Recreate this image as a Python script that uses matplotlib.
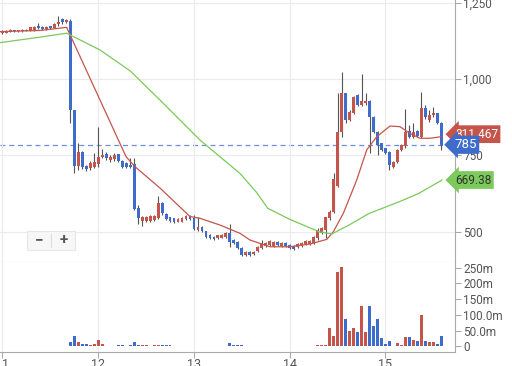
import numpy as np
import matplotlib
matplotlib.use('Agg')
import matplotlib.pyplot as plt
from matplotlib.patches import FancyBboxPatch
import matplotlib.transforms as mtransforms

plt.rcParams['font.family'] = ['Roboto', 'DejaVu Sans']

# velas horarias (precio)
opens = [1150, 1152, 1155, 1160, 1156, 1157, 1162, 1158, 1160, 1175, 1170, 1164, 1172, 1168, 1180, 1195, 1186,
         1190, 899, 715, 762, 715, 708, 712, 721, 746, 755, 735, 738, 753, 733, 726, 720, 722, 577, 536, 536,
         536, 538, 544, 595, 558, 547, 544, 533, 533, 541, 552, 544, 505, 516, 502, 490, 483, 478, 480, 482,
         495, 473, 467, 446, 424, 433, 426, 438, 446, 453, 457, 454, 467, 453, 462, 456, 453, 449, 453, 461,
         459, 464, 478, 495, 506, 544, 566, 650, 827, 953, 866, 888, 948, 915, 920, 929, 877, 827, 789, 773,
         762, 713, 729, 768, 781, 831, 811, 831, 811, 904, 866, 882, 888, 857]
closes = [1156, 1158, 1160, 1157, 1160, 1162, 1158, 1169, 1170, 1168, 1164, 1170, 1166, 1180, 1185, 1186, 1192,
          899, 715, 762, 713, 704, 726, 728, 746, 752, 742, 746, 751, 731, 713, 713, 713, 574, 544, 549, 549,
          551, 551, 595, 560, 541, 535, 533, 541, 546, 552, 541, 509, 516, 502, 483, 478, 475, 489, 490, 495,
          467, 464, 447, 424, 435, 424, 435, 451, 460, 462, 470, 467, 457, 464, 453, 446, 443, 460, 464, 470,
          470, 484, 506, 511, 549, 566, 673, 827, 953, 866, 893, 942, 915, 929, 929, 877, 827, 784, 768, 759,
          718, 729, 768, 784, 827, 809, 827, 813, 904, 877, 882, 890, 857, 785]
highs = [1160, 1161, 1163, 1162, 1162, 1164, 1164, 1171, 1172, 1182, 1172, 1172, 1174, 1183, 1205, 1200, 1198,
         1196, 899, 791, 764, 718, 732, 757, 844, 770, 762, 750, 757, 756, 735, 728, 740, 740, 588, 552, 552,
         554, 554, 617, 598, 560, 549, 546, 544, 549, 555, 555, 555, 547, 518, 504, 492, 485, 491, 492, 498,
         527, 476, 469, 449, 438, 436, 438, 454, 473, 466, 473, 470, 470, 467, 465, 459, 456, 463, 467, 473,
         473, 487, 511, 516, 549, 570, 691, 953, 1024, 955, 897, 946, 952, 1016, 953, 931, 879, 829, 791, 775,
         764, 732, 771, 787, 901, 849, 855, 834, 959, 915, 899, 910, 890, 859]
lows = [1146, 1150, 1153, 1155, 1154, 1155, 1156, 1156, 1158, 1165, 1160, 1162, 1164, 1166, 1175, 1180, 1184,
        856, 692, 702, 706, 700, 702, 708, 713, 742, 735, 730, 733, 728, 710, 710, 710, 570, 527, 520, 533,
        533, 535, 541, 556, 538, 532, 530, 531, 531, 539, 538, 505, 502, 500, 481, 476, 473, 476, 478, 480,
        449, 461, 444, 420, 421, 421, 423, 435, 442, 450, 454, 451, 454, 450, 450, 443, 440, 446, 450, 458,
        456, 461, 473, 492, 478, 540, 563, 648, 811, 855, 862, 884, 911, 911, 916, 757, 823, 751, 764, 755,
        702, 710, 726, 765, 773, 806, 808, 810, 806, 868, 860, 877, 853, 768]
# volumen en millones
volumes = [1, 1, 1, 1, 1, 1, 1, 1, 1, 1, 1, 1, 1, 1, 1, 1, 1,
           13, 32, 15, 9, 7, 3, 9, 19, 7, 2, 2, 2, 3, 3, 2, 3, 15, 6, 5, 4,
           2, 3, 3, 3, 3, 3, 2, 1, 1, 1, 2, 2, 1, 1, 1, 1, 1, 1, 1, 1,
           12, 3, 3, 3, 1, 1, 1, 1, 1, 1, 1, 1, 1, 1, 1, 1, 1, 1, 1, 1,
           1, 1, 3, 3, 6, 60, 34, 235, 251, 87, 48, 58, 45, 127, 46, 127, 64, 87, 26, 7,
           18, 2, 10, 5, 30, 30, 21, 18, 101, 18, 15, 14, 7, 34]

# medias moviles (dia, precio)
sma_fast_x = [10.974, 11.392, 11.670, 12.290, 12.384, 12.645, 12.958, 13.063, 13.272, 13.480, 13.585, 13.794,
              14.003, 14.211, 14.386, 14.455, 14.559, 14.699, 14.804, 14.908, 15.047, 15.151, 15.256, 15.360,
              15.465, 15.587]
sma_fast_y = [1155, 1159, 1169, 746, 713, 643, 550, 544, 522, 495, 473, 451, 451, 460, 475, 500, 560, 669, 768,
              811, 846, 844, 822, 806, 806, 811.467]
sma_slow_x = [10.974, 11.392, 11.670, 12.018, 12.332, 12.645, 13.063, 13.480, 13.648, 13.770, 13.992, 14.306,
              14.441, 14.619, 14.828, 15.141, 15.350, 15.590]
sma_slow_y = [1119, 1137, 1150, 1095, 1027, 931, 800, 691, 631, 577, 542, 500, 493, 522, 560, 598, 626, 669.38]

last_price = 785
day_ticks = [11, 12, 13, 14, 15]
price_ticks = [500, 750, 1000, 1250]
vol_ticks = [0, 50, 100, 150, 200, 250]
vol_labels = ['0', '50.0m', '100.0m', '150m', '200m', '250m']

red = '#c5554a'
blue = '#3d6ccc'
green = '#7cc95c'

x = 11 + np.arange(len(opens)) / 24
o = np.array(opens)
c = np.array(closes)
up = c >= o
colors = np.where(up, red, blue)

fig = plt.figure(figsize=(5.12, 3.66), dpi=100)
ax = fig.add_axes([0, 0.284, 0.8887, 0.716])
axv = fig.add_axes([0, 0.038, 0.8887, 0.246], sharex=ax)

# velas
ax.vlines(x, lows, highs, color='#555555', lw=0.8, zorder=2)
body = np.maximum(np.abs(c - o), 2.5)
ax.bar(x, body, bottom=np.minimum(o, c), width=0.03, color=colors, zorder=3)

ax.plot(sma_fast_x, sma_fast_y, color=red, lw=0.9, zorder=4)
ax.plot(sma_slow_x, sma_slow_y, color=green, lw=0.9, zorder=4)
ax.axhline(last_price, color='#6b8fdc', lw=0.9, ls=(0, (4, 3)), zorder=1)

ax.set_xlim(10.974, 15.726)
ax.set_ylim(400.9, 1258.6)
ax.yaxis.tick_right()
ax.set_yticks(price_ticks)
ax.set_yticklabels(['{:,}'.format(t) for t in price_ticks])
ax.set_xticks(day_ticks)
ax.tick_params(axis='x', length=0, labelbottom=False)
ax.tick_params(axis='y', length=4, color='#aaaaaa', labelcolor='#555555', labelsize=8.5, pad=2)
ax.grid(True, color='#ebebeb', lw=0.8, zorder=0)
for s in ['left', 'top']:
    ax.spines[s].set_visible(False)
ax.spines['right'].set_color('#aaaaaa')
ax.spines['bottom'].set_color('#cccccc')

# etiquetas a la derecha
tr = mtransforms.blended_transform_factory(ax.transAxes, ax.transData)
ax.text(1.0, sma_fast_y[-1] + 8, '{:.3f}'.format(sma_fast_y[-1]), transform=tr, color='white', fontsize=8.5,
        va='center', ha='left', clip_on=False, zorder=5,
        bbox=dict(boxstyle='larrow,pad=0.2', fc=red, ec='none'))
ax.text(0.998, last_price, str(last_price), transform=tr, color='white', fontsize=9.5,
        va='center', ha='left', clip_on=False, zorder=6,
        bbox=dict(boxstyle='larrow,pad=0.2', fc=blue, ec='none'))
ax.text(1.0, sma_slow_y[-1], '{:.2f}'.format(sma_slow_y[-1]), transform=tr, color='#333333', fontsize=8.5,
        va='center', ha='left', clip_on=False, zorder=5,
        bbox=dict(boxstyle='larrow,pad=0.2', fc=green, ec='none'))

# volumen
axv.bar(x, volumes, width=0.03, color=colors, zorder=3)
axv.set_ylim(-18, 268)
axv.yaxis.tick_right()
axv.set_yticks(vol_ticks)
axv.set_yticklabels(vol_labels)
axv.set_xticks(day_ticks)
axv.set_xticklabels([str(d) for d in day_ticks])
axv.tick_params(axis='y', length=4, color='#aaaaaa', labelcolor='#555555', labelsize=8.5, pad=2)
axv.tick_params(axis='x', length=4, color='#aaaaaa', labelcolor='#555555', labelsize=9, pad=0.5)
axv.grid(True, axis='x', color='#ebebeb', lw=0.8, zorder=0)
for s in ['left', 'top']:
    axv.spines[s].set_visible(False)
axv.spines['right'].set_color('#aaaaaa')
axv.spines['bottom'].set_color('#aaaaaa')

# botones de zoom
fig.patches.append(FancyBboxPatch((0.053, 0.318), 0.094, 0.05, boxstyle='square,pad=0',
                                  transform=fig.transFigure, fc='#f7f7f7', ec='#e6e6e6', lw=0.8))
fig.lines.append(plt.Line2D([0.1, 0.1], [0.325, 0.361], transform=fig.transFigure, color='#dddddd', lw=0.8))
fig.text(0.076, 0.343, '−', ha='center', va='center', fontsize=11, color='#555555', fontweight='bold')
fig.text(0.124, 0.343, '+', ha='center', va='center', fontsize=11, color='#555555', fontweight='bold')

fig.savefig('out.png', dpi=100)
